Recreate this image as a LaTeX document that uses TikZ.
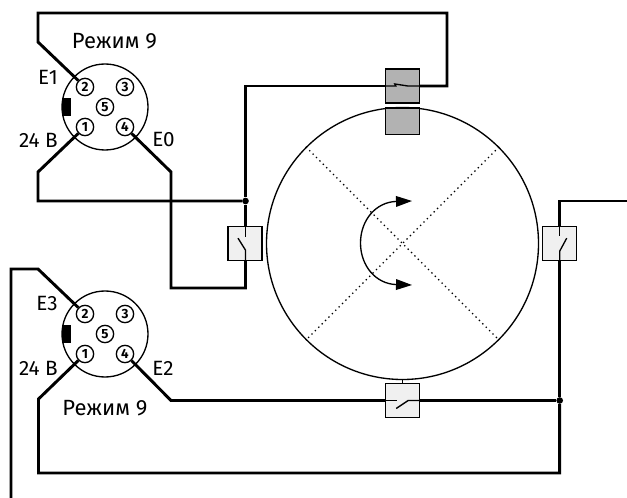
\documentclass[tikz,border=0pt]{standalone}
\usepackage{fontspec}
\setmainfont{Fira Sans}
\usetikzlibrary{arrows.meta}
\tikzset{
    wire/.style={line width=2.2pt,line join=miter},
    thin wire/.style={line width=1pt},
    body/.style={draw,circle,line width=1pt,minimum size=64.5pt,inner sep=0pt},
    pin/.style={draw,circle,fill=white,line width=1pt,minimum size=13pt,inner sep=0pt,font=\fontsize{10}{10}\selectfont\bfseries},
    key/.style={fill=black,minimum width=6.75pt,minimum height=13.5pt,inner sep=0pt},
    label/.style={inner sep=0pt,font=\fontsize{15.5}{17}\selectfont},
    mode/.style={inner sep=0pt,font=\fontsize{16.5}{18}\selectfont},
    sensor/.style={draw,line width=1pt,fill=gray!12,minimum size=25.5pt,inner sep=0pt},
    magnet/.style={sensor,fill=gray!60},
    joint/.style={circle,fill=black,inner sep=0pt,minimum size=5pt},
    sector/.style={dash pattern=on 1pt off 2.6pt,line width=1pt},
    turn/.style={line width=1pt,-{Triangle[length=12pt,width=8pt]}},
}
\begin{document}
\begin{tikzpicture}[x=0.75pt,y=-0.75pt]
    \useasboundingbox (0,0) rectangle (627,498);

    % upper plug
    \node[body] (plugA) at (105,107) {};
    \node[pin] (a2) at (85,87) {2};
    \node[pin] (a3) at (125,87) {3};
    \node[pin] (a5) at (105,107) {5};
    \node[pin] (a1) at (85,127) {1};
    \node[pin] (a4) at (125,127) {4};
    \node[key] (keyA) at (66.5,107) {};
    \node[mode] (modeA) at (114.5,41) {Режим 9};
    \node[label,anchor=east] (e1) at (58,77) {E1};
    \node[label,anchor=east] (uA) at (58,140) {24 В};
    \node[label,anchor=west] (e0) at (152,140) {E0};

    % lower plug
    \node[body] (plugB) at (105,334) {};
    \node[pin] (b2) at (85,314) {2};
    \node[pin] (b3) at (125,314) {3};
    \node[pin] (b5) at (105,334) {5};
    \node[pin] (b1) at (85,354) {1};
    \node[pin] (b4) at (125,354) {4};
    \node[key] (keyB) at (66.5,334) {};
    \node[mode] (modeB) at (105,408) {Режим 9};
    \node[label,anchor=east] (e3) at (58,304) {E3};
    \node[label,anchor=east] (uB) at (58,368) {24 В};
    \node[label,anchor=west] (e2) at (152,368) {E2};

    % wheel
    \node[draw,circle,line width=1pt,minimum size=204pt,inner sep=0pt] (wheel) at (402.5,243.5) {};
    \draw[sector] (wheel.45) -- (wheel.225);
    \draw[sector] (wheel.135) -- (wheel.315);
    \coordinate (arcLeft) at (360.5,243);
    \coordinate (arcTop) at (412,201);
    \coordinate (arcBot) at (412,285);
    \draw[turn] (arcLeft) .. controls (360.5,220) and (376,202) .. (arcTop);
    \draw[turn] (arcLeft) .. controls (360.5,266) and (376,284) .. (arcBot);

    % sensors
    \node[magnet] (topS) at (402.5,86) {};
    \node[magnet,minimum height=20pt] (topM) at (402.5,121.5) {};
    \node[sensor] (leftS) at (245,243.5) {};
    \node[sensor] (rightS) at (559.7,243.5) {};
    \node[sensor] (botS) at (402.5,400.5) {};
    \draw[thin wire] (wheel.south) -- (botS.north);

    % junctions
    \node[joint] (jA) at (245.5,201) {};
    \node[joint] (jB) at (559.7,400.5) {};

    % wires
    \coordinate (a2up) at (38,42);
    \coordinate (a2top) at (38,13);
    \coordinate (a2right) at (447,13);
    \coordinate (a2down) at (447,86);
    \draw[wire] (a2) -- (a2up) -- (a2top) -- (a2right) -- (a2down) -- (topS.east);
    \coordinate (topIn) at (245.5,86);
    \draw[wire] (jA) -- (topIn) -- (topS.west);
    \coordinate (a1low) at (38,172);
    \coordinate (a1j) at (38,201);
    \draw[wire] (a1) -- (a1low) -- (a1j) -- (jA);
    \draw[wire] (jA) -- (jA|-leftS.north);
    \coordinate (a4low) at (171,172);
    \coordinate (a4foot) at (171,288);
    \coordinate (leftFoot) at (245.5,288);
    \draw[wire] (a4) -- (a4low) -- (a4foot) -- (leftFoot) -- (leftFoot|-leftS.south);

    \coordinate (rightTop) at (559.7,201);
    \coordinate (rightEnd) at (627,201);
    \draw[wire] (rightS.north) -- (rightTop) -- (rightEnd);
    \draw[wire] (rightS.south) -- (jB);
    \coordinate (b4low) at (171,400.5);
    \draw[wire] (b4) -- (b4low) -- (botS.west);
    \draw[wire] (botS.east) -- (jB);
    \coordinate (b1low) at (38.5,399);
    \coordinate (b1foot) at (38.5,473);
    \coordinate (jBfoot) at (559.7,473);
    \draw[wire] (b1) -- (b1low) -- (b1foot) -- (jBfoot) -- (jB);
    \coordinate (b2up) at (38,269);
    \coordinate (b2left) at (11,269);
    \coordinate (b2end) at (11,498);
    \draw[wire] (b2) -- (b2up) -- (b2left) -- (b2end);

    % contacts
    \draw[thin wire] (leftS.north) ++(0.5,0) -- ++(0,11);
    \draw[thin wire] (leftS.south) ++(0.5,0) -- ++(0,-11) -- ++(-7.5,-12);
    \draw[thin wire] (rightS.north) -- ++(0,10);
    \draw[thin wire] (rightS.south) -- ++(0,-10) -- ++(7,-13);
    \draw[thin wire] (botS.west) -- ++(12,0);
    \draw[thin wire] (botS.east) -- ++(-12,0) -- ++(-12,8);
    \draw[thin wire] (topS.west) -- ++(11,0) -- ++(-1,-2) -- ++(13,2) -- (topS.east);
\end{tikzpicture}
\end{document}
